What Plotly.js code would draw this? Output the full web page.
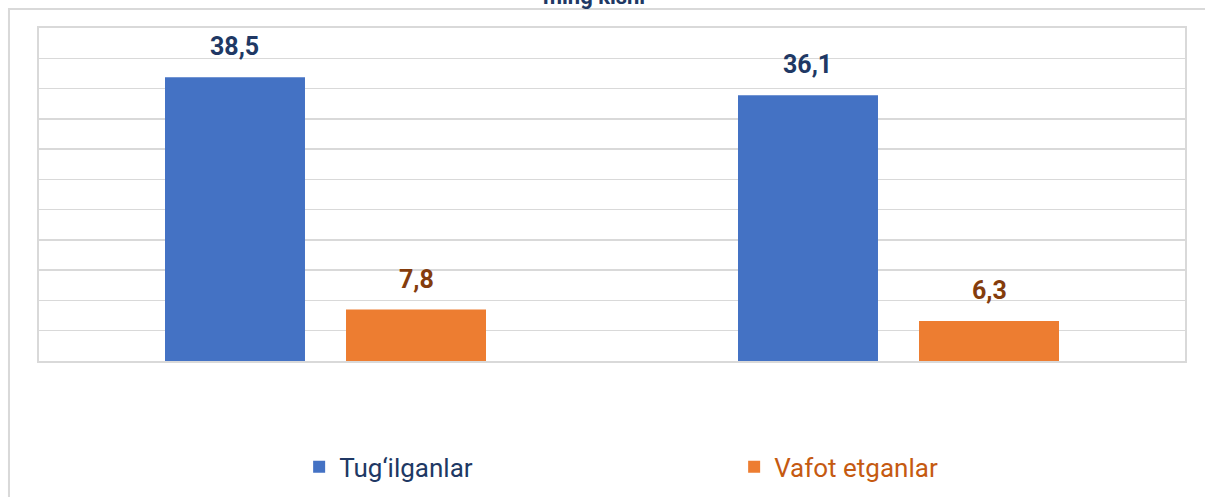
<!DOCTYPE html>
<html>
<head>
<meta charset="utf-8">
<script src="https://cdn.plot.ly/plotly-3.0.1.min.js"></script>
<style>html,body{margin:0;padding:0;background:#fff;}#chart{width:1205px;height:497px;}</style>
</head>
<body>
<div id="chart"></div>
<script>
const categories = ['1', '2'];
const seriesNames = ['Tug‘ilganlar', 'Vafot etganlar'];
const born = [38.5, 36.1];
const died = [7.8, 6.3];
const bornLabels = ['38,5', '36,1'];
const diedLabels = ['7,8', '6,3'];

const barW = 0.2443;
const offs = [-0.2801, 0.0358];
const barColors = ['#4472C4', '#ED7D31'];
const labelColors = ['#203864', '#843C0C'];
const legendColors = ['#203864', '#C55A11'];

const series = [born, died];
const labels = [bornLabels, diedLabels];

const data = series.map((vals, s) => ({
  type: 'bar',
  x: categories,
  y: vals,
  width: barW,
  offset: offs[s],
  name: '<span style="color:' + legendColors[s] + '">' + seriesNames[s] + '</span>',
  marker: {color: barColors[s], line: {width: 0}},
  hoverinfo: 'none'
}));

const annotations = [];
series.forEach((vals, s) => {
  vals.forEach((v, i) => {
    annotations.push({
      x: i + offs[s] + barW / 2,
      y: v,
      xref: 'x', yref: 'y',
      text: labels[s][i],
      showarrow: false,
      yanchor: 'bottom',
      yshift: 14,
      font: {family: 'Roboto, sans-serif', size: 25, weight: 'bold', color: labelColors[s]}
    });
  });
});

const layout = {
  width: 1205, height: 497,
  margin: {l: 39, r: 20, t: 28, b: 136, autoexpand: false},
  paper_bgcolor: '#ffffff',
  plot_bgcolor: '#ffffff',
  barmode: 'overlay',
  showlegend: true,
  title: {
    text: 'ming kishi',
    x: 0.493, xref: 'container', xanchor: 'center',
    y: 0.992, yref: 'container', yanchor: 'bottom',
    font: {family: 'Roboto, sans-serif', size: 22, weight: 'bold', color: '#203864'}
  },
  xaxis: {
    type: 'category',
    range: [-0.5, 1.5],
    showticklabels: false,
    showgrid: false,
    zeroline: false,
    showline: true, mirror: true, linecolor: '#D9D9D9', linewidth: 2,
    ticks: ''
  },
  yaxis: {
    range: [1, 45],
    tick0: 1, dtick: 4,
    showticklabels: false,
    showgrid: true, gridcolor: '#D9D9D9', gridwidth: 1.5,
    zeroline: false,
    showline: true, mirror: true, linecolor: '#D9D9D9', linewidth: 2,
    ticks: ''
  },
  legend: {
    orientation: 'h',
    x: 0.227, xanchor: 'left',
    y: -0.318, yanchor: 'middle',
    entrywidth: 390, entrywidthmode: 'pixels',
    font: {family: 'Roboto, sans-serif', size: 26, color: '#203864'},
    bgcolor: 'rgba(0,0,0,0)'
  },
  shapes: [{
    type: 'rect', xref: 'paper', yref: 'paper',
    x0: -0.0262, x1: 1.05, y0: -0.5, y1: 1.057,
    line: {color: '#D9D9D9', width: 2},
    fillcolor: 'rgba(0,0,0,0)',
    layer: 'below'
  }],
  annotations: annotations
};

Plotly.newPlot('chart', data, layout, {displayModeBar: false, staticPlot: true});
</script>
</body>
</html>
